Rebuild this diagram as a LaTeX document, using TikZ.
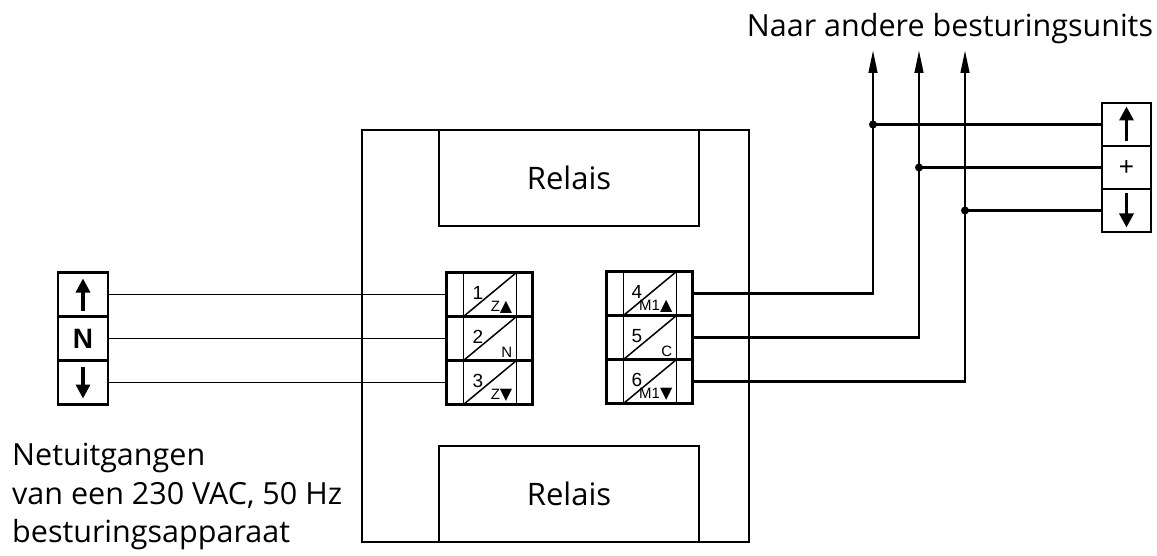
\documentclass[tikz,border=0pt]{standalone}
\usepackage{fontspec}
\setmainfont{Open Sans}
\newfontfamily\termfont{Liberation Sans}
\newfontfamily\symfont{DejaVu Sans}
\usetikzlibrary{arrows.meta}

\newcommand{\up}{{\symfont\fontsize{16}{16}\selectfont ▲}}
\newcommand{\down}{{\symfont\fontsize{16}{16}\selectfont ▼}}

\begin{document}
\begin{tikzpicture}[x=1pt, y=-1pt,
    box/.style={draw, line width=2.7pt, inner sep=0pt, outer sep=0pt},
    relaisbox/.style={box, minimum width=260pt, minimum height=96pt, font=\fontsize{31}{34}\selectfont},
    cell/.style={draw, line width=2.3pt, minimum width=86pt, minimum height=44pt, inner sep=0pt, outer sep=0pt},
    srccell/.style={draw, line width=2.3pt, minimum width=50pt, minimum height=44pt, inner sep=0pt, outer sep=0pt},
    thinwire/.style={line width=1.5pt},
    thickwire/.style={line width=2.7pt},
    dot/.style={circle, fill, inner sep=0pt, minimum size=8pt},
    symarrow/.style={line width=3.2pt, -{Triangle[length=14pt,width=14pt]}},
    riser/.style={thickwire, -{Triangle[length=23pt,width=8.5pt]}},
    nr/.style={font=\termfont\fontsize{19}{19}\selectfont, inner sep=0pt, anchor=north west},
    fn/.style={font=\termfont\fontsize{15}{15}\selectfont, inner sep=0pt, anchor=south east},
    caption/.style={font=\fontsize{30.5}{34}\selectfont, inner sep=0pt}]

    \useasboundingbox (0,0) rectangle (1157,556);

    % behuizing met relais
    \node[box, minimum width=387pt, minimum height=412pt] (housing) at (555.5,336) {};
    \node[relaisbox] (relaisA) at (569,178) {Relais};
    \node[relaisbox] (relaisB) at (569,494) {Relais};

    % klemmen 1-3
    \foreach \i/\y/\lab in {1/294.5/Z\up, 2/338.5/N, 3/382.5/Z\down} {
        \node[cell] (t\i) at (489.5,\y) {};
        \draw[line width=1.8pt] ([xshift=17pt]t\i.north west) -- ([xshift=17pt]t\i.south west)
            ([xshift=-16pt]t\i.north east) -- ([xshift=-16pt]t\i.south east);
        \draw[line width=1.5pt] ([xshift=17pt]t\i.south west) -- ([xshift=-16pt]t\i.north east);
        \node[nr] (n\i) at ([xshift=26pt,yshift=-14pt]t\i.north west) {\i};
        \node[fn] (f\i) at ([xshift=-20pt,yshift=3pt]t\i.south east) {\lab};
    }

    % klemmen 4-6
    \foreach \i/\y/\lab in {4/293.5/M1\up, 5/337.5/C, 6/381.5/M1\down} {
        \node[cell] (t\i) at (649.5,\y) {};
        \draw[line width=1.8pt] ([xshift=17pt]t\i.north west) -- ([xshift=17pt]t\i.south west)
            ([xshift=-16pt]t\i.north east) -- ([xshift=-16pt]t\i.south east);
        \draw[line width=1.5pt] ([xshift=17pt]t\i.south west) -- ([xshift=-16pt]t\i.north east);
        \node[nr] (n\i) at ([xshift=25pt,yshift=-14pt]t\i.north west) {\i};
        \node[fn] (f\i) at ([xshift=-20pt,yshift=3pt]t\i.south east) {\lab};
    }

    % netuitgangen
    \node[srccell] (s1) at (83,294.5) {};
    \node[srccell] (s2) at (83,338.5) {};
    \node[srccell] (s3) at (83,382.5) {};
    \draw[symarrow] ([yshift=-16pt]s1.center) -- ([yshift=16pt]s1.center);
    \node[font=\termfont\bfseries\fontsize{28}{28}\selectfont, inner sep=0pt] (nul) at (s2.center) {N};
    \draw[symarrow] ([yshift=16pt]s3.center) -- ([yshift=-16pt]s3.center);

    \foreach \i in {1,2,3}
        \draw[thinwire] (s\i.east) -- (t\i.west);

    % andere besturingsunits
    \node[srccell, minimum width=49pt, minimum height=43pt] (o1) at (1126.5,124.5) {};
    \node[srccell, minimum width=49pt, minimum height=43pt] (o2) at (1126.5,167.5) {};
    \node[srccell, minimum width=49pt, minimum height=43pt] (o3) at (1126.5,210.5) {};
    \draw[symarrow] ([yshift=-17pt]o1.center) -- ([yshift=18pt]o1.center);
    \node[font=\termfont\fontsize{26}{26}\selectfont, inner sep=0pt] (plus) at (o2.center) {+};
    \draw[symarrow] ([yshift=17pt]o3.center) -- ([yshift=-17pt]o3.center);

    \coordinate (r1) at (873,50);
    \coordinate (r2) at (919,50);
    \coordinate (r3) at (965,50);
    \draw[riser] (t4.east) -| (r1);
    \draw[riser] (t5.east) -| (r2);
    \draw[riser] (t6.east) -| (r3);

    \foreach \i in {1,2,3} {
        \coordinate (j\i) at (r\i |- o\i.west);
        \draw[thickwire] (j\i) -- (o\i.west);
        \node[dot] (d\i) at (j\i) {};
    }

    % teksten
    \node[caption, anchor=base] (dest) at (950,37) {Naar andere besturingsunits};
    \node[caption, anchor=base west] (srcA) at (12,465) {Netuitgangen};
    \node[caption, anchor=base west] (srcB) at (12,504) {van een 230 VAC, 50 Hz};
    \node[caption, anchor=base west] (srcC) at (12,542) {besturingsapparaat};
\end{tikzpicture}
\end{document}
